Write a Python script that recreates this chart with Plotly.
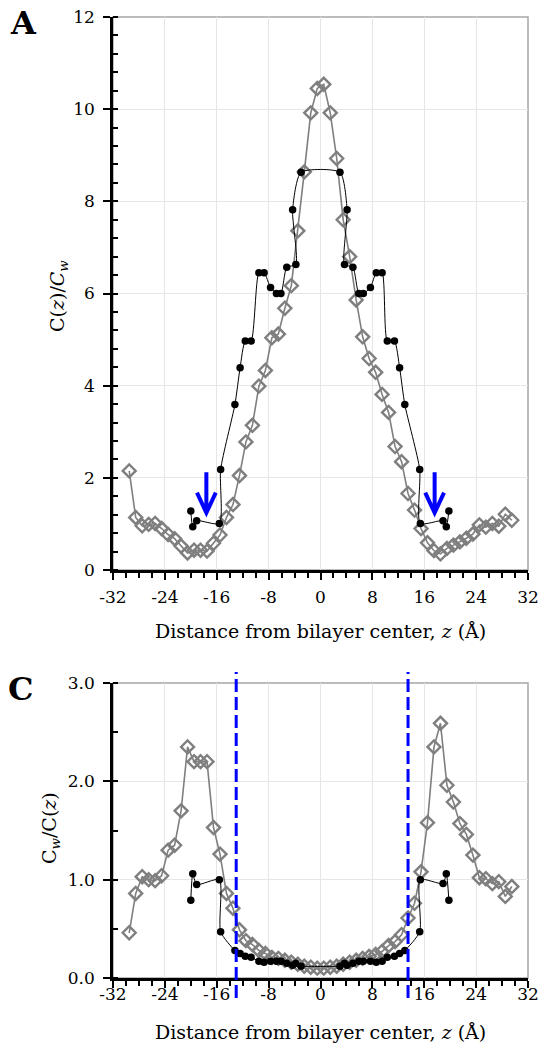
import plotly.graph_objects as go

# ---- panel A: C(z)/Cw ----
z_grid = [-29.5, -28.5, -27.5, -26.5, -25.5, -24.5, -23.5, -22.5, -21.5, -20.5,
          -19.5, -18.5, -17.5, -16.5, -15.5, -14.5, -13.5, -12.5, -11.5, -10.5,
          -9.5, -8.5, -7.5, -6.5, -5.5, -4.5, -3.5, -2.5, -1.5, -0.5,
          0.5, 1.5, 2.5, 3.5, 4.5, 5.5, 6.5, 7.5, 8.5, 9.5,
          10.5, 11.5, 12.5, 13.5, 14.5, 15.5, 16.5, 17.5, 18.5, 19.5,
          20.5, 21.5, 22.5, 23.5, 24.5, 25.5, 26.5, 27.5, 28.5, 29.5]
ratio_a_gray = [2.15, 1.14, 0.96, 0.99, 1.01, 0.90, 0.77, 0.68, 0.52, 0.37,
                0.43, 0.43, 0.41, 0.58, 0.76, 1.14, 1.42, 2.05, 2.78, 3.14,
                3.99, 4.33, 5.04, 5.12, 5.68, 6.17, 7.36, 8.64, 9.92, 10.45,
                10.54, 9.92, 8.93, 7.60, 6.80, 5.86, 5.06, 4.59, 4.29, 3.81,
                3.42, 2.68, 2.35, 1.66, 1.30, 0.90, 0.59, 0.42, 0.35, 0.47,
                0.54, 0.61, 0.69, 0.78, 0.98, 0.93, 1.01, 0.95, 1.21, 1.08]

z_black = [-20.0, -19.7, -19.1, -15.6, -15.4, -13.2, -12.4, -11.6, -10.7, -9.5,
           -8.7, -7.7, -6.8, -6.1, -5.2, -3.8, -4.3, -3.0,
           3.0, 4.1, 3.7, 5.0, 5.9, 6.6, 7.7, 8.6, 9.5, 10.3,
           11.4, 12.2, 13.0, 15.3, 15.4, 18.9, 19.4, 19.8]
ratio_a_black = [1.28, 0.94, 1.07, 1.01, 2.18, 3.59, 4.39, 4.97, 4.97, 6.45,
                 6.45, 6.13, 6.00, 6.00, 6.57, 6.63, 7.82, 8.63,
                 8.63, 7.82, 6.63, 6.57, 6.00, 6.00, 6.13, 6.45, 6.45, 4.97,
                 4.97, 4.39, 3.59, 2.18, 1.01, 1.07, 0.94, 1.28]

# ---- panel C: Cw/C(z) ----
ratio_c_gray = [0.46, 0.86, 1.03, 1.00, 0.99, 1.04, 1.30, 1.35, 1.70, 2.35,
                2.20, 2.20, 2.20, 1.53, 1.26, 0.86, 0.71, 0.49, 0.38, 0.34,
                0.28, 0.25, 0.21, 0.20, 0.18, 0.16, 0.14, 0.12, 0.11, 0.10,
                0.10, 0.11, 0.12, 0.14, 0.16, 0.18, 0.20, 0.22, 0.24, 0.27,
                0.33, 0.37, 0.44, 0.61, 0.76, 1.08, 1.58, 2.35, 2.59, 1.96,
                1.79, 1.57, 1.46, 1.25, 1.02, 1.01, 0.96, 0.98, 0.83, 0.93]
ratio_c_black = [0.79, 1.06, 0.95, 1.00, 0.47, 0.28, 0.25, 0.22, 0.21, 0.17,
                 0.16, 0.17, 0.17, 0.17, 0.15, 0.15, 0.13, 0.12,
                 0.12, 0.13, 0.15, 0.15, 0.17, 0.17, 0.17, 0.16, 0.17, 0.21,
                 0.22, 0.25, 0.28, 0.47, 1.00, 0.96, 1.06, 0.79]

# tick labels (plain hyphen as in the original)
x_ticks = [-32, -24, -16, -8, 0, 8, 16, 24, 32]
x_ticktext = ["-32", "-24", "-16", "-8", "0", "8", "16", "24", "32"]

arrow_z = [-17.6, 17.6]
boundary_z = [-13.0, 13.5]

FONT = "DejaVu Serif"
GRAY = "#7f7f7f"
BLUE = "#0000ff"

W, H = 539, 1050


def px(x):
    return x / W


def py(y):
    return 1 - y / H


fig = go.Figure()

for xa, ya, g, b in [("x", "y", ratio_a_gray, ratio_a_black),
                     ("x2", "y2", ratio_c_gray, ratio_c_black)]:
    fig.add_trace(go.Scatter(
        x=z_grid, y=g, xaxis=xa, yaxis=ya, mode="lines+markers",
        line=dict(color=GRAY, width=1.6),
        marker=dict(symbol="diamond-open", size=10, color=GRAY,
                    line=dict(width=2.4, color=GRAY)),
        showlegend=False))
    fig.add_trace(go.Scatter(
        x=z_black, y=b, xaxis=xa, yaxis=ya, mode="lines+markers",
        line=dict(color="black", width=1, shape="spline", smoothing=0.6),
        marker=dict(symbol="circle", size=7.5, color="black"),
        showlegend=False))

xdom = [px(113), px(528)]
ydom_a = [py(570), py(17)]
ydom_c = [py(978), py(683)]

tickfont = dict(family=FONT, size=17, color="black")


def xax(anchor, standoff):
    return dict(domain=xdom, anchor=anchor, range=[-32, 32],
                tickvals=x_ticks, ticktext=x_ticktext, automargin=False,
                ticklabeloverflow="allow",
                showgrid=True, gridcolor="#e6e6e6", gridwidth=1, zeroline=False,
                showline=True, linecolor="black", linewidth=2.5,
                ticks="outside", ticklen=7, tickwidth=2, tickcolor="black",
                minor=dict(dtick=2, tick0=0, ticks="outside", ticklen=5, tickwidth=1.5,
                           tickcolor="black", showgrid=False),
                tickfont=tickfont, ticklabelstandoff=standoff)


def yax(anchor, dom, rng, dt, mdt, fmt):
    return dict(domain=dom, anchor=anchor, range=rng, tick0=0, dtick=dt,
                tickformat=fmt, automargin=False, ticklabeloverflow="allow",
                showgrid=True, gridcolor="#e6e6e6", gridwidth=1, zeroline=False,
                showline=True, linecolor="black", linewidth=2.5,
                ticks="outside", ticklen=7, tickwidth=2, tickcolor="black",
                minor=dict(dtick=mdt, tick0=0, ticks="inside", ticklen=5, tickwidth=1.5,
                           tickcolor="black", showgrid=False),
                tickfont=tickfont, ticklabelstandoff=5)


fig.update_layout(
    width=W, height=H,
    margin=dict(l=0, r=0, t=0, b=0, autoexpand=False),
    paper_bgcolor="white", plot_bgcolor="white",
    font=dict(family=FONT, color="black"),
    xaxis=xax("y", 3),
    yaxis=yax("x", ydom_a, [0, 12], 2, 0.4, "d"),
    xaxis2=xax("y2", -8),
    yaxis2=yax("x2", ydom_c, [0, 3], 1, 0.5, ".1f"),
)

# gray frame (top / right)
for xr, yr in [("x domain", "y domain"), ("x2 domain", "y2 domain")]:
    fig.add_shape(type="rect", xref=xr, yref=yr, x0=0, x1=1, y0=0, y1=1,
                  line=dict(color="#a6a6a6", width=1.5), layer="below")

# blue arrows in panel A
for az in arrow_z:
    fig.add_shape(type="path", xref="x", yref="y",
                  path=f"M{az},2.12 L{az},1.24 M{az - 1.45},1.68 L{az},1.24 L{az + 1.45},1.68",
                  line=dict(color=BLUE, width=4))

# dashed boundaries in panel C
for bz in boundary_z:
    fig.add_shape(type="line", xref="x2", yref="paper", x0=bz, x1=bz,
                  y0=py(998), y1=py(672),
                  line=dict(color=BLUE, width=3, dash="13px,5px"))

title_font = dict(family=FONT, size=19, color="black")
xtitle = "Distance from bilayer center, <i>z</i> (Å)"
fig.add_annotation(text=xtitle, xref="paper", yref="paper",
                   x=px((113 + 528) / 2), y=py(631), xanchor="center", yanchor="middle",
                   showarrow=False, font=title_font)
fig.add_annotation(text=xtitle, xref="paper", yref="paper",
                   x=px((113 + 528) / 2), y=py(1032), xanchor="center", yanchor="middle",
                   showarrow=False, font=title_font)
fig.add_annotation(text="C(<i>z</i>)/<i>C<sub>w</sub></i>", xref="paper", yref="paper",
                   x=px(58), y=py(296), textangle=-90, xanchor="center", yanchor="middle",
                   showarrow=False, font=title_font)
fig.add_annotation(text="C<sub><i>w</i></sub>/C(<i>z</i>)", xref="paper", yref="paper",
                   x=px(50), y=py(828), textangle=-90, xanchor="center", yanchor="middle",
                   showarrow=False, font=title_font)

# panel letters
fig.add_annotation(text="<b>A</b>", xref="paper", yref="paper",
                   x=px(8), y=py(23), xanchor="left", yanchor="middle",
                   showarrow=False, font=dict(family=FONT, size=32, color="black"))
fig.add_annotation(text="<b>C</b>", xref="paper", yref="paper",
                   x=px(6), y=py(689), xanchor="left", yanchor="middle",
                   showarrow=False, font=dict(family=FONT, size=32, color="black"))

fig.write_html("out.html",
               config={"displayModeBar": False},
               post_script="document.body.style.margin='0';"
                           "document.body.style.overflow='hidden';")
